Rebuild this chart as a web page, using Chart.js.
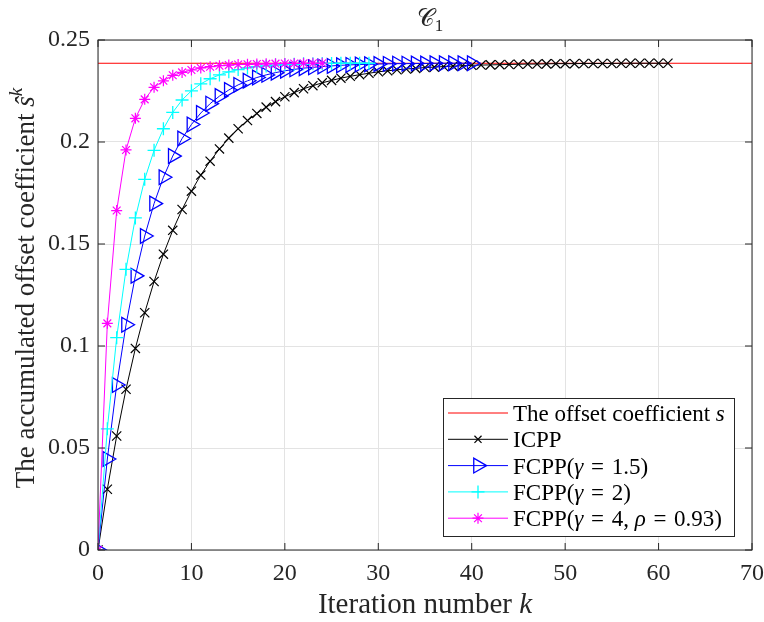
<!DOCTYPE html>
<html>
<head>
<meta charset="utf-8">
<script src="https://cdn.jsdelivr.net/npm/chart.js@4.4.1/dist/chart.umd.min.js"></script>
<style>
  html, body { margin: 0; padding: 0; background: #fff; }
  canvas { display: block; }
</style>
</head>
<body>
<canvas id="chart" width="764" height="622"></canvas>
<script>
// Offset coefficient s (reference level)
const offsetCoefficient = 0.2386;

// Accumulated offset coefficient per iteration k = 0, 1, 2, ...
const icpp = [
  0, 0.0298, 0.0559, 0.0788, 0.0988, 0.1163, 0.1316, 0.1450, 0.1567, 0.1669,
  0.1759, 0.1838, 0.1906, 0.1966, 0.2019, 0.2065, 0.2105, 0.2140, 0.2171, 0.2198,
  0.2222, 0.2242, 0.2261, 0.2276, 0.2290, 0.2302, 0.2313, 0.2322, 0.2330, 0.2337,
  0.2344, 0.2349, 0.2354, 0.2358, 0.2361, 0.2365, 0.2367, 0.2370, 0.2372, 0.2374,
  0.2376, 0.2377, 0.2378, 0.2379, 0.2380, 0.2381, 0.2382, 0.2382, 0.2383, 0.2384,
  0.2384, 0.2384, 0.2385, 0.2385, 0.2385, 0.2385, 0.2386, 0.2386, 0.2386, 0.2386,
  0.2386, 0.2386
];
const fcppGamma15 = [
  0, 0.0446, 0.0809, 0.1104, 0.1344, 0.1539, 0.1698, 0.1827, 0.1931, 0.2017,
  0.2086, 0.2142, 0.2188, 0.2225, 0.2255, 0.2280, 0.2300, 0.2316, 0.2329, 0.2340,
  0.2349, 0.2356, 0.2362, 0.2366, 0.2370, 0.2373, 0.2376, 0.2378, 0.2380, 0.2381,
  0.2382, 0.2383, 0.2384, 0.2384, 0.2385, 0.2385, 0.2386, 0.2386, 0.2386, 0.2386,
  0.2386
];
const fcppGamma2 = [
  0, 0.0594, 0.1041, 0.1376, 0.1628, 0.1817, 0.1959, 0.2065, 0.2145, 0.2206,
  0.2251, 0.2285, 0.2310, 0.2329, 0.2344, 0.2355, 0.2363, 0.2369, 0.2373, 0.2377,
  0.2379, 0.2381, 0.2383, 0.2384, 0.2385, 0.2385, 0.2386, 0.2386, 0.2386, 0.2386
];
const fcppGamma4 = [
  0, 0.1111, 0.1664, 0.1961, 0.2116, 0.2209, 0.2268, 0.2300, 0.2327, 0.2341,
  0.2353, 0.2363, 0.2369, 0.2374, 0.2377, 0.2380, 0.2381, 0.2382, 0.2383, 0.2384,
  0.2385, 0.2385, 0.2386, 0.2386, 0.2386
];

const xTickLabels = ['0', '10', '20', '30', '40', '50', '60', '70'];
const yTickLabels = ['0', '0.05', '0.1', '0.15', '0.2', '0.25'];
const xLimits = [0, 70];
const yLimits = [0, 0.25];

const SERIF = "'Liberation Serif', 'DejaVu Serif', serif";
const AXIS_COLOR = '#262626';
const SP = '\u2004'; // slightly wider space around relations

const toPoints = arr => arr.map((v, k) => ({ x: k, y: v }));

// Rich text helpers: parts = [{t: 'text', i: italic?, sup/sub: raised/lowered?}]
function partFont(p, size) {
  const s = (p.sup || p.sub) ? Math.round(size * 0.7) : size;
  return (p.i ? 'italic ' : '') + s + 'px ' + SERIF;
}
function richWidth(ctx, parts, size) {
  let w = 0;
  for (const p of parts) { ctx.font = partFont(p, size); w += ctx.measureText(p.t).width; }
  return w;
}
function drawRich(ctx, parts, x, y, size) {
  let cx = x;
  ctx.textBaseline = 'alphabetic';
  ctx.textAlign = 'left';
  for (const p of parts) {
    ctx.font = partFont(p, size);
    const dy = p.sup ? -size * 0.45 : (p.sub ? size * 0.22 : 0);
    ctx.fillText(p.t, cx, y + dy);
    cx += ctx.measureText(p.t).width;
  }
}

const datasets = [
  {
    label: 'The offset coefficient s',
    labelParts: [{ t: 'The offset coefficient ' }, { t: 's', i: true }],
    data: [{ x: xLimits[0], y: offsetCoefficient }, { x: xLimits[1], y: offsetCoefficient }],
    borderColor: '#ff0000', borderWidth: 1, pointRadius: 0, order: 5
  },
  {
    label: 'ICPP',
    labelParts: [{ t: 'ICPP' }],
    data: toPoints(icpp),
    borderColor: '#000000', borderWidth: 1,
    pointStyle: 'crossRot', pointRadius: 6.5, pointBorderWidth: 1.2,
    pointBorderColor: '#000000', pointBackgroundColor: 'transparent', order: 4
  },
  {
    label: 'FCPP(γ = 1.5)',
    labelParts: [{ t: 'FCPP(' }, { t: 'γ', i: true }, { t: SP + '=' + SP + '1.5)' }],
    data: toPoints(fcppGamma15),
    borderColor: '#0000ff', borderWidth: 1,
    pointStyle: 'triangle', pointRotation: 90, pointRadius: 8.5, pointBorderWidth: 1.3,
    pointBorderColor: '#0000ff', pointBackgroundColor: 'transparent', order: 3
  },
  {
    label: 'FCPP(γ = 2)',
    labelParts: [{ t: 'FCPP(' }, { t: 'γ', i: true }, { t: SP + '=' + SP + '2)' }],
    data: toPoints(fcppGamma2),
    borderColor: '#00ffff', borderWidth: 1,
    pointStyle: 'cross', pointRadius: 6.5, pointBorderWidth: 1.3,
    pointBorderColor: '#00ffff', pointBackgroundColor: 'transparent', order: 2
  },
  {
    label: 'FCPP(γ = 4, ρ = 0.93)',
    labelParts: [{ t: 'FCPP(' }, { t: 'γ', i: true }, { t: SP + '=' + SP + '4, ' }, { t: 'ρ', i: true }, { t: SP + '=' + SP + '0.93)' }],
    data: toPoints(fcppGamma4),
    borderColor: '#ff00ff', borderWidth: 1,
    pointStyle: 'star', pointRadius: 5.5, pointBorderWidth: 1.2,
    pointBorderColor: '#ff00ff', pointBackgroundColor: 'transparent', order: 1
  }
];

// Axes box, inward tick marks, titles and the boxed legend
const decorations = {
  id: 'decorations',
  afterDatasetsDraw(chart) {
    const { ctx, chartArea: a, scales } = chart;
    ctx.save();
    ctx.strokeStyle = AXIS_COLOR;
    ctx.lineWidth = 1;
    ctx.strokeRect(a.left, a.top, a.right - a.left, a.bottom - a.top);
    const tl = 7;
    ctx.beginPath();
    for (const t of scales.x.ticks) {
      const px = scales.x.getPixelForValue(t.value);
      ctx.moveTo(px, a.bottom); ctx.lineTo(px, a.bottom - tl);
      ctx.moveTo(px, a.top); ctx.lineTo(px, a.top + tl);
    }
    for (const t of scales.y.ticks) {
      const py = scales.y.getPixelForValue(t.value);
      ctx.moveTo(a.left, py); ctx.lineTo(a.left + tl, py);
      ctx.moveTo(a.right, py); ctx.lineTo(a.right - tl, py);
    }
    ctx.stroke();
    ctx.restore();
  },
  afterDraw(chart) {
    const { ctx, chartArea: a } = chart;
    ctx.save();
    ctx.fillStyle = '#262626';
    const cx = (a.left + a.right) / 2;

    // Title
    const titleParts = [{ t: '𝒞' }, { t: '1', sub: true }];
    const tw = richWidth(ctx, titleParts, 24);
    drawRich(ctx, titleParts, cx - tw / 2 + 5, 26, 24);

    // X axis title
    const xParts = [{ t: 'Iteration number ' }, { t: 'k', i: true }];
    const xw = richWidth(ctx, xParts, 29);
    drawRich(ctx, xParts, cx - xw / 2, 613, 29);

    // Y axis title
    const yParts = [{ t: 'The accumulated offset coefficient ' }, { t: 'ŝ', i: true }, { t: 'k', i: true, sup: true }];
    const yw = richWidth(ctx, yParts, 27);
    ctx.translate(34, 288);
    ctx.rotate(-Math.PI / 2);
    drawRich(ctx, yParts, -yw / 2, 0, 27);
    ctx.restore();

    // Legend
    ctx.save();
    const lw = 291, lh = 138;
    const lx = a.right - 18 - lw, ly = a.bottom - 14 - lh;
    ctx.fillStyle = '#ffffff';
    ctx.fillRect(lx, ly, lw, lh);
    ctx.strokeStyle = AXIS_COLOR;
    ctx.lineWidth = 1;
    ctx.strokeRect(lx + 0.5, ly + 0.5, lw, lh);
    const rowH = 26.3;
    chart.data.datasets.forEach((ds, i) => {
      const ry = ly + 15 + i * rowH;
      ctx.strokeStyle = ds.borderColor;
      ctx.lineWidth = ds.borderWidth;
      ctx.beginPath();
      ctx.moveTo(lx + 5, ry); ctx.lineTo(lx + 65, ry);
      ctx.stroke();
      if (ds.pointRadius > 0) {
        ctx.strokeStyle = ds.pointBorderColor;
        ctx.fillStyle = 'transparent';
        ctx.lineWidth = ds.pointBorderWidth;
        Chart.helpers.drawPoint(ctx, {
          pointStyle: ds.pointStyle, radius: ds.pointStyle === 'crossRot' ? 5 : ds.pointRadius,
          rotation: ds.pointRotation || 0, borderWidth: ds.pointBorderWidth
        }, lx + 35, ry);
      }
      ctx.fillStyle = '#000000';
      drawRich(ctx, ds.labelParts, lx + 70, ry + 8, 23);
    });
    ctx.restore();
  }
};

new Chart(document.getElementById('chart'), {
  type: 'line',
  data: { datasets },
  options: {
    responsive: false,
    animation: false,
    devicePixelRatio: 1,
    layout: { padding: { left: 0, right: 12, top: 40, bottom: 0 } },
    plugins: { legend: { display: false }, title: { display: false }, tooltip: { enabled: false } },
    elements: { line: { tension: 0 } },
    scales: {
      x: {
        type: 'linear', min: xLimits[0], max: xLimits[1],
        afterFit: s => { s.height = 72; s.paddingLeft = 0; s.paddingRight = 0; },
        afterBuildTicks: s => { s.ticks = xTickLabels.map(v => ({ value: Number(v) })); },
        ticks: {
          callback: (v, i) => xTickLabels[i],
          font: { family: SERIF, size: 24 }, color: '#262626', padding: 9, maxRotation: 0
        },
        grid: { color: '#e3e3e3', lineWidth: 1, drawTicks: false },
        border: { display: false }
      },
      y: {
        type: 'linear', min: yLimits[0], max: yLimits[1],
        afterFit: s => { s.width = 98; s.paddingTop = 0; s.paddingBottom = 0; },
        afterBuildTicks: s => { s.ticks = yTickLabels.map(v => ({ value: Number(v) })); },
        ticks: {
          callback: (v, i) => yTickLabels[i],
          font: { family: SERIF, size: 24 }, color: '#262626', padding: 8
        },
        grid: { color: '#e3e3e3', lineWidth: 1, drawTicks: false },
        border: { display: false }
      }
    }
  },
  plugins: [decorations]
});
</script>
</body>
</html>
